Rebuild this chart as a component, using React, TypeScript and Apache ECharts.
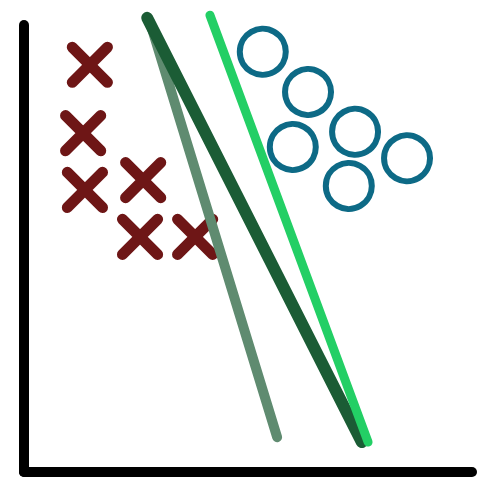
import React, { useEffect, useRef } from "react";
import * as echarts from "echarts";

// Class A points (crosses)
const crossX = [1.47, 1.32, 1.36, 2.66, 2.59, 3.82];
const crossY = [9.11, 7.58, 6.31, 6.53, 5.26, 5.26];

// Class B points (circles)
const circleX = [5.33, 6.34, 7.39, 6.0, 8.55, 7.25];
const circleY = [9.4, 8.5, 7.61, 7.27, 7.02, 6.4];

// Separating lines: [x0, y0, x1, y1]
const lineGray = [2.81, 10.07, 5.65, 0.78];
const lineDark = [2.75, 10.16, 7.54, 0.67];
const lineLight = [4.15, 10.22, 7.68, 0.67];

const zip = (xs: number[], ys: number[]) => xs.map((x, i) => [x, ys[i]]);
const seg = (l: number[]) => [
  [l[0], l[1]],
  [l[2], l[3]],
];

const CROSS =
  "path://M9.39,1.61 L44.39,36.61 A5.5,5.5 0 0 1 36.61,44.39 L1.61,9.39 A5.5,5.5 0 0 1 9.39,1.61 Z " +
  "M44.39,9.39 L9.39,44.39 A5.5,5.5 0 0 1 1.61,36.61 L36.61,1.61 A5.5,5.5 0 0 1 44.39,9.39 Z";

export default function App() {
  const ref = useRef<HTMLDivElement>(null);
  useEffect(() => {
    const chart = echarts.init(ref.current!, undefined, { renderer: "svg" });
    const lineSeries = (l: number[], color: string, width: number) => ({
      type: "line",
      data: seg(l),
      showSymbol: false,
      clip: false,
      silent: true,
      lineStyle: { color, width, cap: "round" },
    });
    chart.setOption({
      animation: false,
      backgroundColor: "#ffffff",
      grid: { left: 24, right: 28, top: 25, bottom: 28 },
      xAxis: {
        type: "value",
        min: 0,
        max: 10,
        axisLine: { show: true, lineStyle: { color: "#000", width: 10, cap: "round" } },
        axisTick: { show: false },
        axisLabel: { show: false },
        splitLine: { show: false },
      },
      yAxis: {
        type: "value",
        min: 0,
        max: 10,
        axisLine: { show: true, lineStyle: { color: "#000", width: 10, cap: "round" } },
        axisTick: { show: false },
        axisLabel: { show: false },
        splitLine: { show: false },
      },
      series: [
        lineSeries(lineGray, "#5f8b70", 10),
        lineSeries(lineDark, "#1b5c35", 12),
        lineSeries(lineLight, "#23cf65", 9),
        {
          type: "scatter",
          data: zip(crossX, crossY),
          symbol: CROSS,
          symbolSize: 46,
          itemStyle: { color: "#6e1616", opacity: 1 },
        },
        {
          type: "scatter",
          data: zip(circleX, circleY),
          symbol: "circle",
          symbolSize: 46,
          itemStyle: {
            color: "transparent",
            borderColor: "#0d6a86",
            borderWidth: 6,
            opacity: 1,
          },
        },
      ],
    });
    return () => chart.dispose();
  }, []);
  return (
    <div
      ref={ref}
      style={{ position: "fixed", left: 0, top: 0, width: 500, height: 500 }}
    />
  );
}
